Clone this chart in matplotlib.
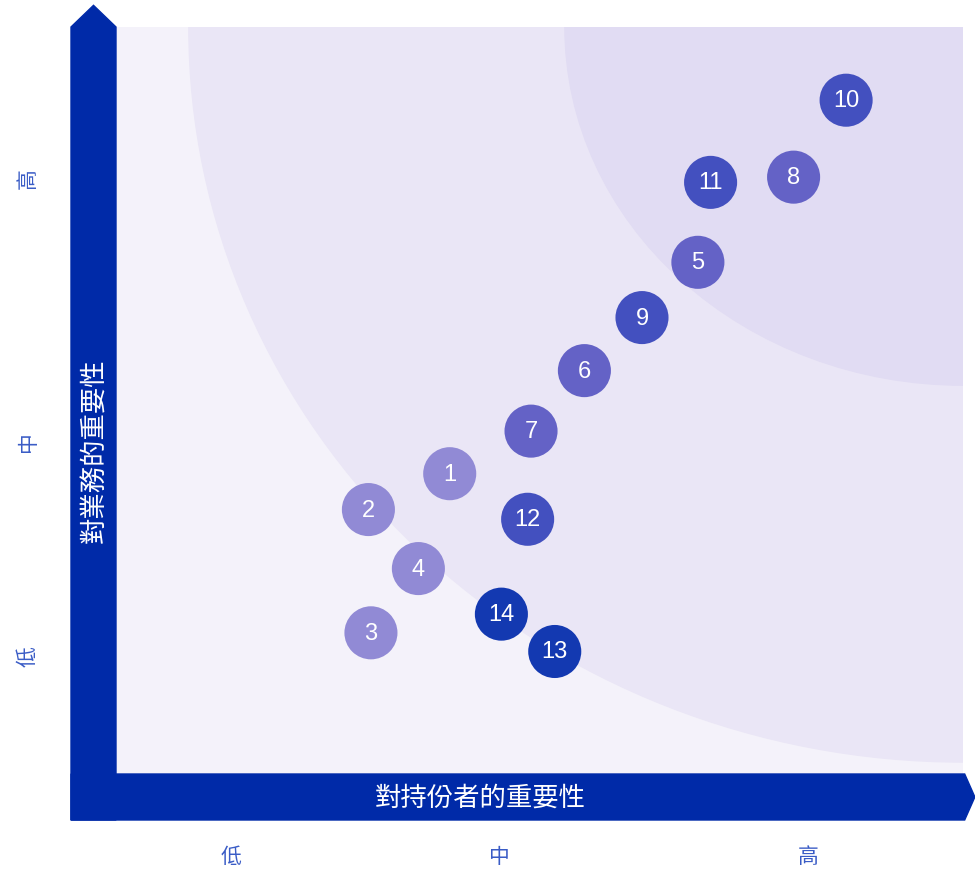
import matplotlib
matplotlib.use("Agg")
import matplotlib.pyplot as plt
from matplotlib.patches import Ellipse, Rectangle, Polygon

plt.rcParams['font.family'] = ['Noto Sans CJK TC', 'DejaVu Sans']

# Materiality matrix data (0-10 scale)
topics = ["1", "2", "3", "4", "5", "6", "7", "8", "9", "10", "11", "12", "13", "14"]
stakeholder_score = [3.94, 2.98, 3.01, 3.57, 6.87, 5.53, 4.90, 8.00, 6.21, 8.62, 7.02, 4.86, 5.18, 4.55]
business_score = [4.02, 3.54, 1.89, 2.75, 6.85, 5.40, 4.59, 7.99, 6.11, 9.02, 7.92, 3.41, 1.64, 2.14]
group = [0, 0, 0, 0, 1, 1, 1, 1, 2, 2, 2, 2, 3, 3]
group_colors = ["#918ad5", "#6462c6", "#4350bf", "#1339b1"]

level_labels = ["低", "中", "高"]
x_level_pos = [1.36, 4.53, 8.17]
y_level_pos = [1.59, 4.47, 7.98]

x_title = "對持份者的重要性"
y_title = "對業務的重要性"

bar_blue = "#002aa8"
tick_blue = "#3a5cc6"

fig = plt.figure(figsize=(9.75, 8.7), dpi=100)
ax = fig.add_axes([116 / 975, 95 / 870, 847 / 975, 747 / 870])
ax.set_xlim(0, 10)
ax.set_ylim(0, 10)
ax.axis("off")

# background zones
ax.add_patch(Rectangle((0, 0), 10, 10, color="#f4f2fa", zorder=0))
ax.add_patch(Ellipse((10, 10), 18.28, 19.68, color="#eae6f6", zorder=1))
ax.add_patch(Ellipse((10, 10), 9.40, 9.59, color="#e1dcf3", zorder=2))

# arrow-shaped axes
bw_x = 45 / 84.7
bw_y = 46 / 74.7
ax.add_patch(Polygon([(-bw_x, -bw_y), (0, -bw_y), (0, 10), (-bw_x / 2, 10.29), (-bw_x, 10)],
                     closed=True, color=bar_blue, clip_on=False, zorder=3))
ax.add_patch(Polygon([(-bw_x, -bw_y), (10.02, -bw_y), (10.14, -bw_y / 2), (10.02, 0), (-bw_x, 0)],
                     closed=True, color=bar_blue, clip_on=False, zorder=3))

ax.text(4.30, -bw_y / 2, x_title, color="white", fontsize=19, ha="center", va="center",
        clip_on=False, zorder=4)
ax.text(-bw_x / 2, 4.34, y_title, color="white", fontsize=19, ha="center", va="center",
        rotation=90, clip_on=False, zorder=4)

for lab, xp in zip(level_labels, x_level_pos):
    ax.text(xp, -1.10, lab, color=tick_blue, fontsize=15, ha="center", va="center", clip_on=False)
for lab, yp in zip(level_labels, y_level_pos):
    ax.text(-1.04, yp, lab, color=tick_blue, fontsize=15, ha="center", va="center",
            rotation=90, clip_on=False)

# topic bubbles
colors = [group_colors[g] for g in group]
ax.scatter(stakeholder_score, business_score, s=1460, c=colors, linewidths=0, zorder=5)
for t, x, y in zip(topics, stakeholder_score, business_score):
    ax.text(x, y, t, color="white", fontsize=17, ha="center", va="center",
            family="Liberation Sans", zorder=6)

fig.savefig("out.png", dpi=100)
